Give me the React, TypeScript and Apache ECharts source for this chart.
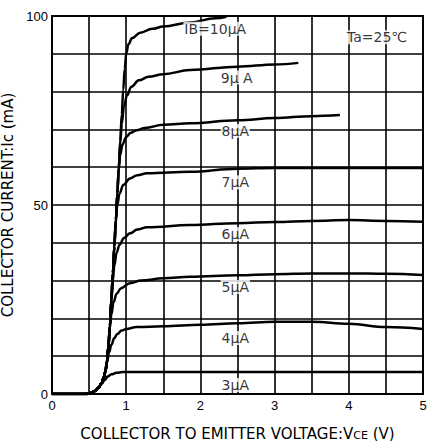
import React, { useEffect, useRef } from "react";
import * as echarts from "echarts";

// Collector current Ic (mA) versus Vce (V), one curve per base current
const IB3 = [[0, 0], [0.46, 0], [0.52, 0.25], [0.58, 0.8], [0.63, 1.7], [0.67, 2.7], [0.71, 3.7], [0.75, 4.6], [0.8, 5.2], [0.87, 5.6], [0.95, 5.8], [1.05, 5.85], [2, 5.85], [3, 5.85], [4, 5.8], [5, 5.8]];
const IB4 = [[0, 0], [0.46, 0], [0.52, 0.25], [0.58, 0.8], [0.63, 1.7], [0.67, 3], [0.7, 4.5], [0.72, 6], [0.74, 8.2], [0.77, 11], [0.8, 13], [0.84, 14.8], [0.88, 15.9], [0.94, 16.8], [1.0, 17.2], [1.14, 17.7], [1.5, 17.9], [2, 18.3], [2.5, 18.7], [3, 19.1], [3.5, 19.1], [4, 18.6], [4.5, 17.7], [5, 17.2]];
const IB5 = [[0, 0], [0.46, 0], [0.52, 0.25], [0.58, 0.8], [0.63, 1.7], [0.67, 3], [0.7, 4.5], [0.72, 6], [0.74, 8.5], [0.76, 12.5], [0.78, 17.5], [0.8, 21], [0.83, 24.3], [0.87, 26.5], [0.93, 28], [1.05, 29.3], [1.2, 30], [1.5, 30.6], [1.86, 31], [2.5, 31.4], [3, 31.7], [3.5, 31.9], [4, 31.9], [4.5, 31.8], [5, 31.5]];
const IB6 = [[0, 0], [0.46, 0], [0.52, 0.25], [0.58, 0.8], [0.63, 1.7], [0.67, 3], [0.7, 4.5], [0.72, 6], [0.74, 8.5], [0.76, 12.5], [0.78, 18], [0.8, 24.5], [0.82, 30], [0.84, 34], [0.87, 37.3], [0.91, 39.5], [0.97, 41.3], [1.05, 42.5], [1.15, 43.5], [1.28, 44.1], [1.86, 44.7], [2.5, 45.2], [3, 45.5], [3.5, 45.8], [4, 46], [4.5, 45.8], [5, 45.6]];
const IB7 = [[0, 0], [0.46, 0], [0.52, 0.25], [0.58, 0.8], [0.63, 1.7], [0.67, 3], [0.7, 4.5], [0.72, 6], [0.74, 8.5], [0.76, 12.5], [0.78, 18], [0.8, 25], [0.82, 32], [0.84, 39], [0.86, 45.5], [0.88, 50], [0.91, 53], [0.96, 55.3], [1.05, 57], [1.15, 57.9], [1.28, 58.4], [1.86, 58.8], [2.5, 59.6], [3, 59.8], [4, 59.8], [5, 59.8]];
const IB8 = [[0, 0], [0.46, 0], [0.52, 0.25], [0.58, 0.8], [0.63, 1.7], [0.67, 3], [0.7, 4.5], [0.72, 6], [0.74, 8.5], [0.76, 12.5], [0.78, 18], [0.8, 25], [0.82, 32], [0.84, 39], [0.86, 46], [0.88, 53], [0.9, 59.5], [0.92, 63.3], [0.95, 66], [1.0, 68], [1.06, 69.1], [1.14, 69.8], [1.25, 70.4], [1.5, 71.2], [1.86, 71.6], [2.5, 72.4], [3, 73], [3.5, 73.5], [3.88, 73.8]];
const IB9 = [[0, 0], [0.46, 0], [0.52, 0.25], [0.58, 0.8], [0.63, 1.7], [0.67, 3], [0.7, 4.5], [0.72, 6], [0.74, 8.5], [0.76, 12.5], [0.78, 18], [0.8, 25], [0.82, 32], [0.84, 39], [0.86, 46], [0.88, 53], [0.9, 60], [0.92, 66.5], [0.94, 71.5], [0.97, 76], [1.01, 79], [1.07, 81.3], [1.17, 83], [1.3, 83.9], [1.5, 84.6], [1.86, 85.7], [2.5, 86.6], [3, 87.2], [3.32, 87.6]];
const IB10 = [[0, 0], [0.46, 0], [0.52, 0.25], [0.58, 0.8], [0.63, 1.7], [0.67, 3], [0.7, 4.5], [0.72, 6], [0.74, 8.5], [0.76, 12.5], [0.78, 18], [0.8, 25], [0.82, 32], [0.84, 39], [0.86, 46], [0.88, 53], [0.9, 60], [0.92, 67], [0.94, 74], [0.96, 80.5], [0.98, 86], [1.0, 90], [1.03, 92.5], [1.08, 94.2], [1.19, 95.6], [1.35, 96.6], [1.5, 97.2], [1.86, 98.3], [2.2, 99.4], [2.35, 99.8]];

const CURVES = [IB3, IB4, IB5, IB6, IB7, IB8, IB9, IB10];

// Curve labels: [Vce, Ic, text]
const LABELS = [
  [2.2, 96.6, "IB=10μA"],
  [2.49, 83.7, "9μ A"],
  [2.47, 69.6, "8μA"],
  [2.47, 56, "7μA"],
  [2.47, 42.3, "6μA"],
  [2.47, 28.3, "5μA"],
  [2.47, 14.8, "4μA"],
  [2.47, 2.4, "3μA"],
  [4.38, 94.4, "Ta=25℃"],
];

const X_TICKS = [0, 1, 2, 3, 4, 5];
const Y_TICKS = [0, 50, 100];

const FONT = "'Liberation Sans', Arial, sans-serif";
const WIDE = "'DejaVu Sans', sans-serif";

export default function App() {
  const ref = useRef<HTMLDivElement>(null);
  useEffect(() => {
    if (!ref.current) return;
    const chart = echarts.init(ref.current, null, { renderer: "svg" });
    const lineSeries = CURVES.map((d) => ({
      type: "line",
      data: d,
      showSymbol: false,
      symbol: "none",
      smooth: 0.4,
      smoothMonotone: "x",
      lineStyle: { color: "#000", width: 2.5 },
      z: 3,
    }));
    chart.setOption({
      animation: false,
      backgroundColor: "#fff",
      grid: {
        left: 52, top: 16, right: 4, bottom: 47,
        outerBoundsMode: "none",
        containLabel: false,
        show: true, borderColor: "#000", borderWidth: 2,
      },
      xAxis: {
        type: "value",
        min: 0,
        max: 5,
        interval: 0.5,
        axisLine: { show: true, lineStyle: { color: "#000", width: 2 } },
        axisTick: { show: false },
        splitLine: { show: true, lineStyle: { color: "#000", width: 1.6 } },
        axisLabel: {
          color: "#000",
          fontFamily: FONT,
          fontSize: 13,
          margin: 5,
          formatter: (v: number) => (X_TICKS.includes(v) ? String(v) : ""),
        },
        name: "COLLECTOR TO EMITTER VOLTAGE:V{s|CE} (V)",
        nameLocation: "middle",
        nameGap: 32,
        nameTextStyle: {
          color: "#000",
          fontFamily: WIDE,
          fontSize: 15,
          rich: { s: { fontSize: 11, fontFamily: WIDE, color: "#000", verticalAlign: "bottom" } },
        },
      },
      yAxis: {
        type: "value",
        min: 0,
        max: 100,
        interval: 10,
        axisLine: { show: true, lineStyle: { color: "#000", width: 2 } },
        axisTick: { show: false },
        splitLine: { show: true, lineStyle: { color: "#000", width: 1.6 } },
        axisLabel: {
          color: "#000",
          fontFamily: FONT,
          fontSize: 13,
          margin: 4,
          formatter: (v: number) => (Y_TICKS.includes(v) ? String(v) : ""),
        },
        name: "COLLECTOR CURRENT:Ic (mA)",
        nameLocation: "middle",
        nameGap: 30,
        nameRotate: 90,
        nameTextStyle: {
          color: "#000",
          fontFamily: WIDE,
          fontSize: 15,
        },
      },
      series: [
        ...lineSeries,
        {
          type: "scatter",
          data: LABELS.map((l) => ({ value: [l[0], l[1]], name: l[2] })),
          symbolSize: 0,
          z: 5,
          label: {
            show: true,
            position: "inside",
            formatter: (p: any) => p.name,
            color: "#000",
            fontFamily: WIDE,
            fontSize: 14,
            backgroundColor: "#fff",
            padding: [0, 1],
          },
        },
      ],
    });
    return () => chart.dispose();
  }, []);
  return <div ref={ref} style={{ position: "fixed", left: 0, top: 0, width: 427, height: 441 }} />;
}
